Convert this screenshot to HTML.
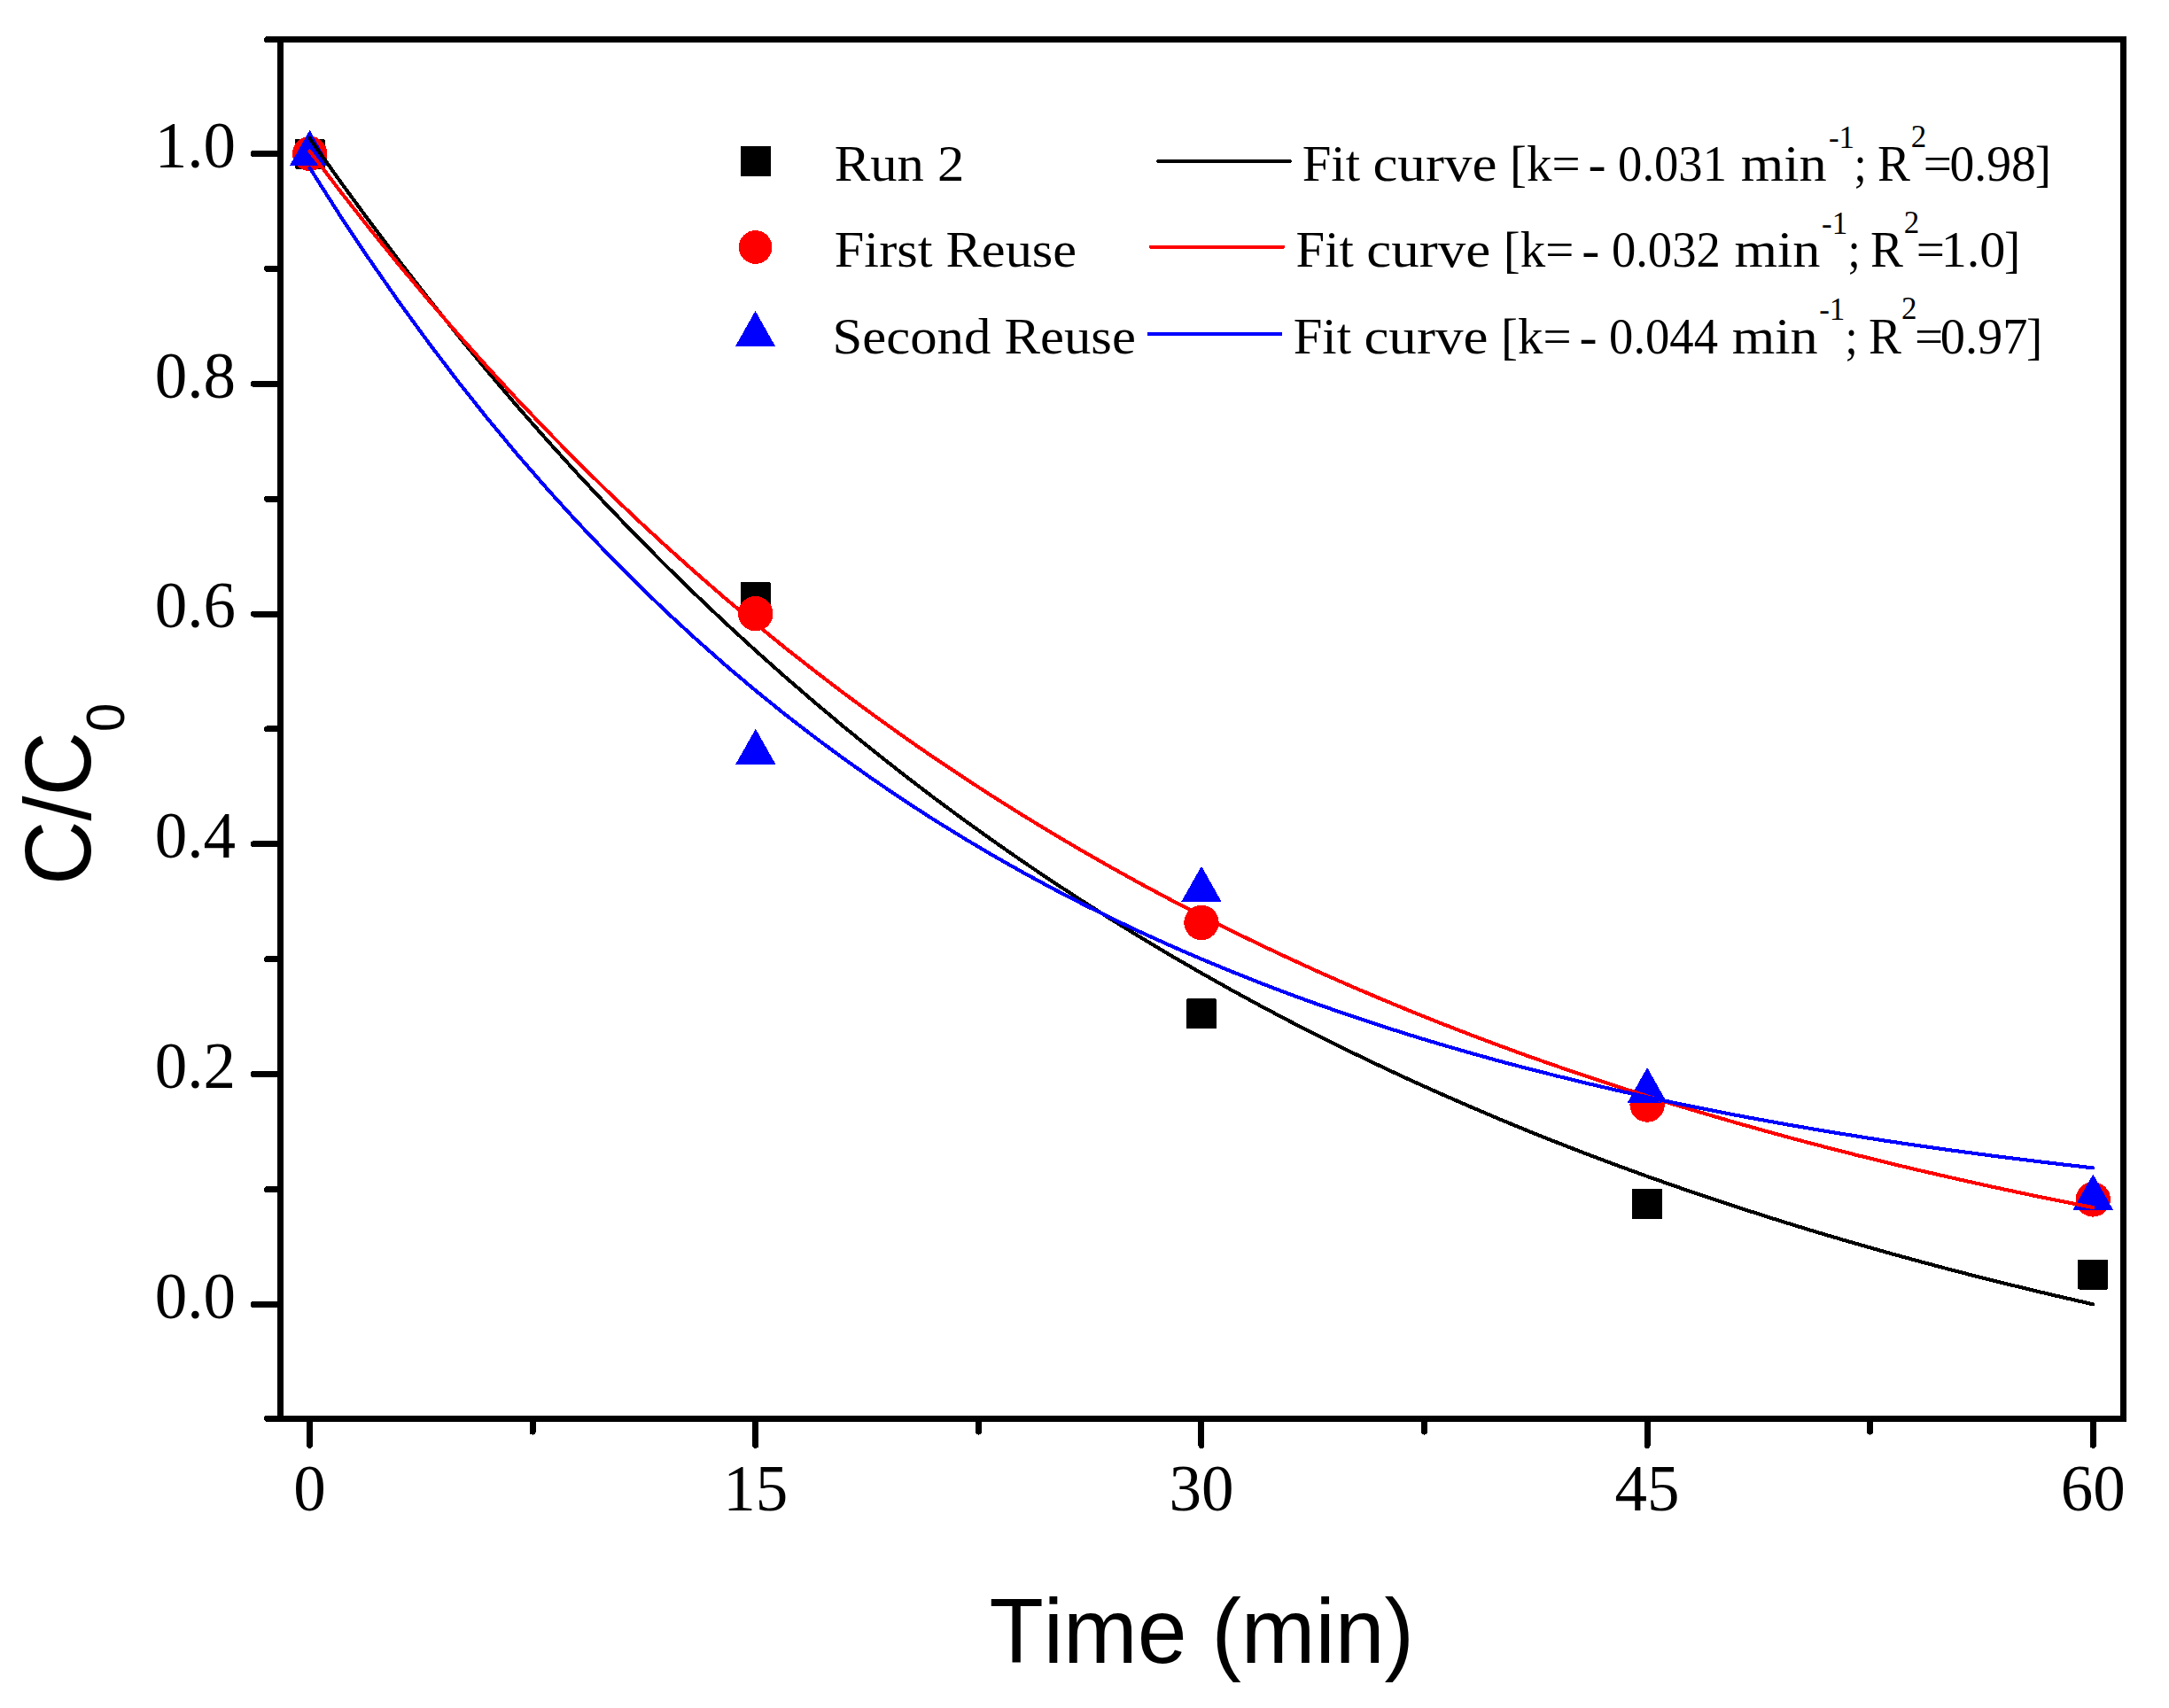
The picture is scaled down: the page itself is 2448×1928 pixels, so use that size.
<!DOCTYPE html>
<html lang="en"><head><meta charset="utf-8"><title>C/C0 vs Time</title>
<style>html,body{margin:0;padding:0;background:#fff}svg{display:block}line,rect,polyline,polygon,circle{shape-rendering:crispEdges}.s{font-family:"Liberation Serif",serif;fill:#000}.a{font-family:"Liberation Sans",sans-serif;fill:#000}</style></head><body>
<svg width="2448" height="1928" viewBox="0 0 2448 1928">
<rect width="2448" height="1928" fill="#fff"/>
<g stroke="#000" stroke-width="7" fill="none" stroke-linecap="butt">
<rect x="316.55" y="44.6" width="2080.15" height="1556.80"/>
</g>
<g stroke="#000" stroke-width="7" fill="none" stroke-linecap="round">
<line x1="301.5" y1="1601.40" x2="316.55" y2="1601.40"/>
<line x1="286.3" y1="1472.40" x2="316.55" y2="1472.40"/>
<line x1="301.5" y1="1342.51" x2="316.55" y2="1342.51"/>
<line x1="286.3" y1="1212.62" x2="316.55" y2="1212.62"/>
<line x1="301.5" y1="1082.73" x2="316.55" y2="1082.73"/>
<line x1="286.3" y1="952.84" x2="316.55" y2="952.84"/>
<line x1="301.5" y1="822.95" x2="316.55" y2="822.95"/>
<line x1="286.3" y1="693.06" x2="316.55" y2="693.06"/>
<line x1="301.5" y1="563.17" x2="316.55" y2="563.17"/>
<line x1="286.3" y1="433.28" x2="316.55" y2="433.28"/>
<line x1="301.5" y1="303.39" x2="316.55" y2="303.39"/>
<line x1="286.3" y1="173.50" x2="316.55" y2="173.50"/>
<line x1="301.5" y1="44.60" x2="316.55" y2="44.60"/>
<line x1="349.60" y1="1601.4" x2="349.60" y2="1631.3"/>
<line x1="601.19" y1="1601.4" x2="601.19" y2="1616.1"/>
<line x1="852.78" y1="1601.4" x2="852.78" y2="1631.3"/>
<line x1="1104.36" y1="1601.4" x2="1104.36" y2="1616.1"/>
<line x1="1355.95" y1="1601.4" x2="1355.95" y2="1631.3"/>
<line x1="1607.54" y1="1601.4" x2="1607.54" y2="1616.1"/>
<line x1="1859.12" y1="1601.4" x2="1859.12" y2="1631.3"/>
<line x1="2110.71" y1="1601.4" x2="2110.71" y2="1616.1"/>
<line x1="2362.30" y1="1601.4" x2="2362.30" y2="1631.3"/>
</g>
<g class="s" font-size="73" text-anchor="end">
<text x="266" y="1487.6">0.0</text>
<text x="266" y="1227.8">0.2</text>
<text x="266" y="968.0">0.4</text>
<text x="266" y="708.3">0.6</text>
<text x="266" y="448.5">0.8</text>
<text x="266" y="188.7">1.0</text>
</g>
<g class="s" font-size="73" text-anchor="middle">
<text x="349.6" y="1704.6">0</text>
<text x="852.8" y="1704.6">15</text>
<text x="1356.0" y="1704.6">30</text>
<text x="1859.1" y="1704.6">45</text>
<text x="2362.3" y="1704.6">60</text>
</g>
<rect x="332.6" y="156.5" width="34" height="34" rx="1.5" fill="#000"/>
<rect x="835.8" y="657.0" width="34" height="34" rx="1.5" fill="#000"/>
<rect x="1339.0" y="1127.4" width="34" height="34" rx="1.5" fill="#000"/>
<rect x="1842.1" y="1341.9" width="34" height="34" rx="1.5" fill="#000"/>
<rect x="2345.3" y="1421.5" width="34" height="34" rx="1.5" fill="#000"/>
<circle cx="349.6" cy="173.5" r="19.7" fill="#f00"/>
<circle cx="852.8" cy="692.7" r="19.7" fill="#f00"/>
<circle cx="1356.0" cy="1041.4" r="19.7" fill="#f00"/>
<circle cx="1859.1" cy="1247.0" r="19.7" fill="#f00"/>
<circle cx="2362.3" cy="1353.9" r="19.7" fill="#f00"/>
<polygon points="349.6,146.8 326.9,187.1 372.3,187.1" fill="#00f"/>
<polygon points="852.8,822.7 830.1,863.0 875.5,863.0" fill="#00f"/>
<polygon points="1356.0,977.7 1333.2,1018.0 1378.7,1018.0" fill="#00f"/>
<polygon points="1859.1,1205.0 1836.4,1245.3 1881.8,1245.3" fill="#00f"/>
<polygon points="2362.3,1325.4 2339.6,1365.7 2385.0,1365.7" fill="#00f"/>
<polyline points="349.6,156.2 383.1,203.6 416.7,249.5 450.2,294.1 483.8,337.3 517.3,379.2 550.9,419.9 584.4,459.3 618.0,497.5 651.5,534.5 685.1,570.5 718.6,605.3 752.1,639.1 785.7,671.8 819.2,703.6 852.8,734.4 886.3,764.2 919.9,793.2 953.4,821.3 987.0,848.5 1020.5,874.9 1054.0,900.5 1087.6,925.3 1121.1,949.3 1154.7,972.7 1188.2,995.3 1221.8,1017.2 1255.3,1038.5 1288.9,1059.1 1322.4,1079.1 1356.0,1098.5 1389.5,1117.3 1423.0,1135.6 1456.6,1153.3 1490.1,1170.4 1523.7,1187.0 1557.2,1203.1 1590.8,1218.8 1624.3,1233.9 1657.9,1248.6 1691.4,1262.9 1724.9,1276.7 1758.5,1290.1 1792.0,1303.1 1825.6,1315.7 1859.1,1327.9 1892.7,1339.7 1926.2,1351.2 1959.8,1362.3 1993.3,1373.1 2026.8,1383.6 2060.4,1393.8 2093.9,1403.6 2127.5,1413.2 2161.0,1422.4 2194.6,1431.4 2228.1,1440.1 2261.7,1448.5 2295.2,1456.7 2328.8,1464.6 2362.3,1472.3" fill="none" stroke="#000" stroke-width="4.1" stroke-linecap="round" stroke-linejoin="round"/>
<polyline points="349.6,170.6 383.1,214.7 416.7,257.5 450.2,298.8 483.8,338.9 517.3,377.7 550.9,415.2 584.4,451.6 618.0,486.8 651.5,520.9 685.1,554.0 718.6,586.0 752.1,616.9 785.7,646.9 819.2,676.0 852.8,704.1 886.3,731.4 919.9,757.7 953.4,783.3 987.0,808.0 1020.5,832.0 1054.0,855.2 1087.6,877.7 1121.1,899.4 1154.7,920.5 1188.2,940.9 1221.8,960.7 1255.3,979.8 1288.9,998.4 1322.4,1016.3 1356.0,1033.7 1389.5,1050.5 1423.0,1066.8 1456.6,1082.6 1490.1,1097.9 1523.7,1112.7 1557.2,1127.0 1590.8,1140.9 1624.3,1154.3 1657.9,1167.4 1691.4,1180.0 1724.9,1192.2 1758.5,1204.0 1792.0,1215.4 1825.6,1226.5 1859.1,1237.3 1892.7,1247.7 1926.2,1257.7 1959.8,1267.5 1993.3,1276.9 2026.8,1286.1 2060.4,1294.9 2093.9,1303.5 2127.5,1311.8 2161.0,1319.9 2194.6,1327.6 2228.1,1335.2 2261.7,1342.5 2295.2,1349.6 2328.8,1356.4 2362.3,1363.0" fill="none" stroke="#f00" stroke-width="4.1" stroke-linecap="round" stroke-linejoin="round"/>
<polyline points="349.6,189.5 383.1,242.2 416.7,292.6 450.2,340.8 483.8,386.9 517.3,431.1 550.9,473.3 584.4,513.6 618.0,552.3 651.5,589.2 685.1,624.5 718.6,658.3 752.1,690.7 785.7,721.6 819.2,751.2 852.8,779.5 886.3,806.6 919.9,832.5 953.4,857.2 987.0,880.9 1020.5,903.6 1054.0,925.3 1087.6,946.0 1121.1,965.9 1154.7,984.9 1188.2,1003.0 1221.8,1020.4 1255.3,1037.0 1288.9,1052.9 1322.4,1068.1 1356.0,1082.6 1389.5,1096.5 1423.0,1109.8 1456.6,1122.6 1490.1,1134.7 1523.7,1146.4 1557.2,1157.5 1590.8,1168.2 1624.3,1178.4 1657.9,1188.1 1691.4,1197.5 1724.9,1206.4 1758.5,1214.9 1792.0,1223.1 1825.6,1230.9 1859.1,1238.4 1892.7,1245.5 1926.2,1252.3 1959.8,1258.9 1993.3,1265.1 2026.8,1271.1 2060.4,1276.8 2093.9,1282.3 2127.5,1287.6 2161.0,1292.6 2194.6,1297.4 2228.1,1301.9 2261.7,1306.3 2295.2,1310.5 2328.8,1314.5 2362.3,1318.4" fill="none" stroke="#00f" stroke-width="4.1" stroke-linecap="round" stroke-linejoin="round"/>
<rect x="836.0" y="165.0" width="34" height="34" rx="1.5" fill="#000"/>
<circle cx="852.6" cy="279.0" r="18.9" fill="#f00"/>
<polygon points="852.5,350.9 829.8,391.2 875.2,391.2" fill="#00f"/>
<g class="s" font-size="57">
<text x="941.8" y="204.4" textLength="146.5" lengthAdjust="spacingAndGlyphs">Run 2</text>
<text x="1469.7" y="204.4" textLength="65.3" lengthAdjust="spacingAndGlyphs">Fit</text>
<text x="1549.4" y="204.4" textLength="140.0" lengthAdjust="spacingAndGlyphs">curve</text>
<text x="1704.0" y="204.4" textLength="79.6" lengthAdjust="spacingAndGlyphs">[k=</text>
<text x="1792.4" y="204.4" textLength="20.1" lengthAdjust="spacingAndGlyphs">-</text>
<text x="1826.1" y="204.4" textLength="122.9" lengthAdjust="spacingAndGlyphs">0.031</text>
<text x="1964.7" y="204.4" textLength="97.0" lengthAdjust="spacingAndGlyphs">min</text>
<text x="2063.9" y="166.8" font-size="35">-1</text>
<text x="2092.6" y="204.4" textLength="14.2" lengthAdjust="spacingAndGlyphs">;</text>
<text x="2119.0" y="204.4" textLength="36.9" lengthAdjust="spacingAndGlyphs">R</text>
<text x="2156.7" y="166.0" font-size="35">2</text>
<text x="2170.7" y="204.4" textLength="32.2" lengthAdjust="spacingAndGlyphs">=</text>
<text x="2200.5" y="204.4" textLength="97.3" lengthAdjust="spacingAndGlyphs">0.98</text>
<text x="2296.8" y="204.4" textLength="18.2" lengthAdjust="spacingAndGlyphs">]</text>
<text x="941.8" y="301.3" textLength="273.3" lengthAdjust="spacingAndGlyphs">First Reuse</text>
<text x="1462.5" y="301.3" textLength="65.3" lengthAdjust="spacingAndGlyphs">Fit</text>
<text x="1542.2" y="301.3" textLength="140.0" lengthAdjust="spacingAndGlyphs">curve</text>
<text x="1696.8" y="301.3" textLength="79.6" lengthAdjust="spacingAndGlyphs">[k=</text>
<text x="1785.2" y="301.3" textLength="20.1" lengthAdjust="spacingAndGlyphs">-</text>
<text x="1818.9" y="301.3" textLength="122.9" lengthAdjust="spacingAndGlyphs">0.032</text>
<text x="1957.5" y="301.3" textLength="97.0" lengthAdjust="spacingAndGlyphs">min</text>
<text x="2056.0" y="263.7" font-size="35">-1</text>
<text x="2085.6" y="301.3" textLength="14.2" lengthAdjust="spacingAndGlyphs">;</text>
<text x="2111.0" y="301.3" textLength="36.9" lengthAdjust="spacingAndGlyphs">R</text>
<text x="2148.7" y="262.9" font-size="35">2</text>
<text x="2162.7" y="301.3" textLength="32.2" lengthAdjust="spacingAndGlyphs">=</text>
<text x="2190.7" y="301.3" textLength="72.8" lengthAdjust="spacingAndGlyphs">1.0</text>
<text x="2262.1" y="301.3" textLength="18.2" lengthAdjust="spacingAndGlyphs">]</text>
<text x="939.6" y="398.6" textLength="342.3" lengthAdjust="spacingAndGlyphs">Second Reuse</text>
<text x="1459.7" y="398.6" textLength="65.3" lengthAdjust="spacingAndGlyphs">Fit</text>
<text x="1539.4" y="398.6" textLength="140.0" lengthAdjust="spacingAndGlyphs">curve</text>
<text x="1694.0" y="398.6" textLength="79.6" lengthAdjust="spacingAndGlyphs">[k=</text>
<text x="1782.4" y="398.6" textLength="20.1" lengthAdjust="spacingAndGlyphs">-</text>
<text x="1816.1" y="398.6" textLength="122.9" lengthAdjust="spacingAndGlyphs">0.044</text>
<text x="1954.7" y="398.6" textLength="97.0" lengthAdjust="spacingAndGlyphs">min</text>
<text x="2053.2" y="361.0" font-size="35">-1</text>
<text x="2082.6" y="398.6" textLength="14.2" lengthAdjust="spacingAndGlyphs">;</text>
<text x="2109.0" y="398.6" textLength="36.9" lengthAdjust="spacingAndGlyphs">R</text>
<text x="2146.1" y="360.2" font-size="35">2</text>
<text x="2161.1" y="398.6" textLength="32.2" lengthAdjust="spacingAndGlyphs">=</text>
<text x="2189.8" y="398.6" textLength="98.7" lengthAdjust="spacingAndGlyphs">0.97</text>
<text x="2287.1" y="398.6" textLength="18.2" lengthAdjust="spacingAndGlyphs">]</text>
</g>
<g fill="none" stroke-width="4.2" stroke-linecap="round">
<line x1="1307.3" y1="181.9" x2="1455.8" y2="181.9" stroke="#000"/>
<line x1="1298.9" y1="278.7" x2="1448.1" y2="278.7" stroke="#f00"/>
<line x1="1296.5" y1="377" x2="1445" y2="377" stroke="#00f"/>
</g>
<text class="a" font-size="100.4" style="font-kerning:none" transform="translate(1116.5,1876.7) scale(1,1.04)">Time (min)</text>
<text class="a" font-size="100.4" style="font-kerning:none" transform="translate(101.8,999) rotate(-90) scale(1,1.045)">C/C<tspan font-size="58" dy="37">0</tspan></text>
</svg></body></html>
